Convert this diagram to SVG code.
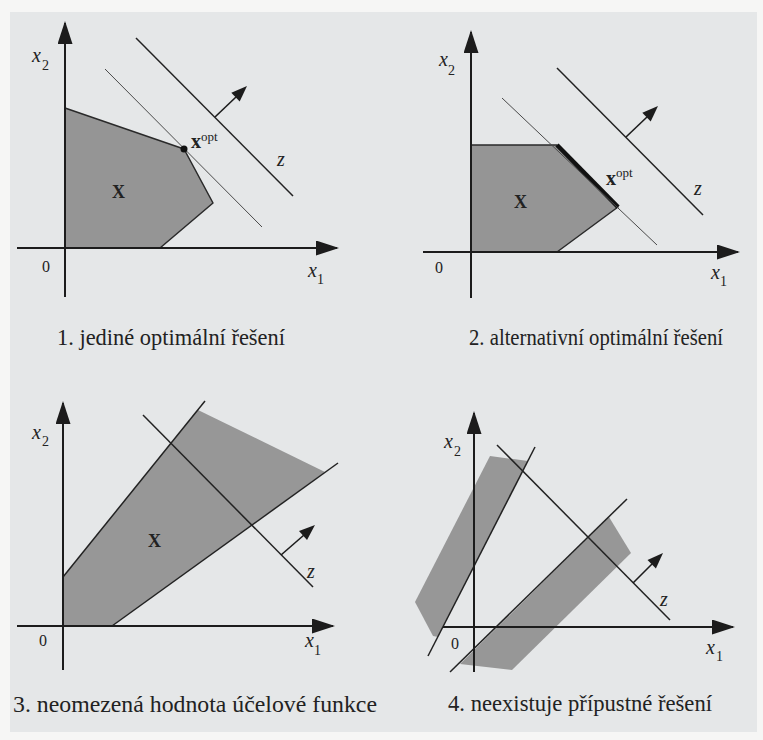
<svg xmlns="http://www.w3.org/2000/svg" width="763" height="740" viewBox="0 0 763 740">
<defs>
<marker id="ax" markerWidth="26" markerHeight="16" refX="21" refY="7.5" orient="auto" markerUnits="userSpaceOnUse"><path d="M0,0 L23,7.5 L0,15 z" fill="#1c1c1c"/></marker>
</defs>
<style>
.axis{stroke:#1c1c1c;stroke-width:2;fill:none;marker-end:url(#ax)}
.reg{fill:#959595;stroke:#2a2a2a;stroke-width:1.5;stroke-linejoin:round}
.reg2{fill:#979797;stroke:none}
.cl{stroke:#222;stroke-width:1.5;fill:none}
.thin{stroke:#4a4a4a;stroke-width:1;fill:none}
.dir{stroke:#1c1c1c;stroke-width:1.6;fill:none}
.head{fill:#1c1c1c;stroke:none}
.it{font-style:italic;font-size:20px}
.sub{font-size:14px}
.zero{font-size:16px}
.bx{font-weight:bold;font-size:20px}
.bX{font-weight:bold;font-size:18px}
.sup{font-size:13px}
.cap{font-size:22.5px}
</style>
<rect x="0" y="0" width="763" height="740" fill="#f6f6f5"/>
<rect x="10" y="12" width="747" height="720" fill="#e5e7e8"/>

<g id="panel1" font-family="'Liberation Serif', serif" fill="#222">
<polygon class="reg" points="65,108 184,149 213,203 160,248 65,248"/>
<line class="thin" x1="105" y1="69" x2="262" y2="227"/>
<line class="cl" x1="136" y1="38" x2="293" y2="196"/>
<line class="dir" x1="215" y1="117" x2="236" y2="97"/>
<polygon class="head" points="247,86 239.7,101.4 231.3,92.8"/>
<line class="axis" x1="65" y1="297" x2="65" y2="23"/>
<line class="axis" x1="17" y1="248" x2="337" y2="248"/>
<circle cx="184" cy="149" r="3.5" fill="#111"/>
<text class="bx" x="191" y="148">x</text><text class="sup" x="201" y="141">opt</text>
<text class="it" x="277" y="166">z</text>
<text class="bX" x="112" y="198">X</text>
<text class="it" x="32" y="62">x</text><text class="sub" x="42" y="70">2</text>
<text class="zero" x="42" y="272">0</text>
<text class="it" x="308" y="277">x</text><text class="sub" x="317" y="284">1</text>
<text class="cap" x="57" y="345" textLength="228" lengthAdjust="spacingAndGlyphs">1. jediné optimální řešení</text>
</g>

<g id="panel2" font-family="'Liberation Serif', serif" fill="#222">
<polygon class="reg" points="471,145 557,145 618,207 557,252 471,252"/>
<line stroke="#111" stroke-width="4.5" x1="557" y1="145" x2="618" y2="207"/>
<line class="thin" x1="502" y1="98" x2="657" y2="245"/>
<line class="cl" x1="557" y1="68" x2="703" y2="215"/>
<line class="dir" x1="626" y1="137" x2="647" y2="117"/>
<polygon class="head" points="658,106 650.7,121.4 642.3,112.8"/>
<line class="axis" x1="471" y1="298" x2="471" y2="32"/>
<line class="axis" x1="423" y1="252" x2="738" y2="252"/>
<text class="bx" x="606" y="185">x</text><text class="sup" x="616" y="177">opt</text>
<text class="it" x="694" y="195">z</text>
<text class="bX" x="514" y="208">X</text>
<text class="it" x="439" y="66">x</text><text class="sub" x="448" y="75">2</text>
<text class="zero" x="435" y="273">0</text>
<text class="it" x="711" y="279">x</text><text class="sub" x="720" y="286">1</text>
<text class="cap" x="469" y="345" textLength="254" lengthAdjust="spacingAndGlyphs">2. alternativní optimální řešení</text>
</g>

<g id="panel3" font-family="'Liberation Serif', serif" fill="#222">
<polygon class="reg2" points="63,577 198,410 325,472 112,626 63,626"/>
<line class="cl" x1="63" y1="577" x2="205" y2="401"/>
<line class="cl" x1="112" y1="626" x2="338" y2="463"/>
<line class="cl" x1="143" y1="415" x2="313" y2="587"/>
<line class="dir" x1="281" y1="555" x2="304" y2="535"/>
<polygon class="head" points="315,525 307,540.1 299,531.1"/>
<line class="axis" x1="63" y1="670" x2="63" y2="403"/>
<line class="axis" x1="17" y1="626" x2="333" y2="626"/>
<text class="bX" x="148" y="547">X</text>
<text class="it" x="307" y="578">z</text>
<text class="it" x="32" y="439">x</text><text class="sub" x="42" y="446">2</text>
<text class="zero" x="39" y="646">0</text>
<text class="it" x="305" y="647">x</text><text class="sub" x="314" y="655">1</text>
<text class="cap" x="13" y="712" textLength="364" lengthAdjust="spacingAndGlyphs">3. neomezená hodnota účelové funkce</text>
</g>

<g id="panel4" font-family="'Liberation Serif', serif" fill="#222">
<polygon class="reg2" points="490,456 528,461 438,637 433,636 415,602"/>
<polygon class="reg2" points="609,517 631,553 512,670 460,664"/>
<line class="cl" x1="428" y1="656" x2="535" y2="447"/>
<line class="cl" x1="450" y1="672" x2="627" y2="499"/>
<line class="cl" x1="497" y1="445" x2="670" y2="620"/>
<line class="dir" x1="633" y1="583" x2="652" y2="564"/>
<polygon class="head" points="663,553 655.9,568.5 647.5,560.1"/>
<line class="axis" x1="474" y1="672" x2="474" y2="413"/>
<line class="axis" x1="443" y1="627" x2="733" y2="627"/>
<text class="it" x="660" y="606">z</text>
<text class="it" x="444" y="448">x</text><text class="sub" x="454" y="456">2</text>
<text class="zero" x="451" y="649">0</text>
<text class="it" x="706" y="654">x</text><text class="sub" x="716" y="661">1</text>
<text class="cap" x="448" y="711" textLength="264" lengthAdjust="spacingAndGlyphs">4. neexistuje přípustné řešení</text>
</g>
</svg>
